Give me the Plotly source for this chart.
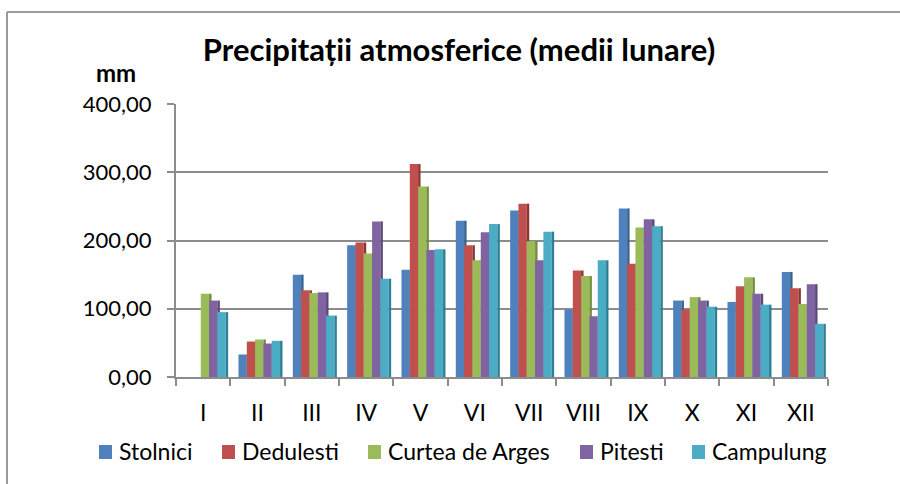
import plotly.graph_objects as go

months = ["I", "II", "III", "IV", "V", "VI", "VII", "VIII", "IX", "X", "XI", "XII"]
stolnici = [0, 33, 150, 193, 157, 229, 244, 99, 247, 112, 110, 154]
dedulesti = [0, 52, 127, 197, 312, 193, 254, 156, 166, 99, 133, 130]
curtea_de_arges = [122, 55, 123, 181, 279, 171, 199, 148, 219, 117, 146, 107]
pitesti = [112, 49, 124, 228, 186, 212, 171, 89, 231, 112, 122, 136]
campulung = [95, 53, 90, 144, 187, 224, 213, 171, 221, 103, 106, 78]
y_ticks = [0, 100, 200, 300, 400]
y_tick_labels = ["0,00", "100,00", "200,00", "300,00", "400,00"]

series = [
    ("Stolnici", stolnici, "#4F81BD", "#37618F"),
    ("Dedulesti", dedulesti, "#C0504D", "#8E3533"),
    ("Curtea de Arges", curtea_de_arges, "#9BBB59", "#728D3C"),
    ("Pitesti", pitesti, "#8064A2", "#5D4679"),
    ("Campulung", campulung, "#4BACC6", "#2F7F95"),
]
# left edge of each legend swatch (page pixels)
legend_x = [99, 222, 368, 580, 692]

FONT = "Lato, 'Open Sans', sans-serif"
fig = go.Figure()
step = 0.153
front_w = 0.153
side_w = 0.045
for i, (name, vals, col, dark) in enumerate(series):
    off = -0.35 + i * step
    fig.add_trace(go.Bar(
        x=months, y=vals, name=name, marker=dict(color=col, line=dict(width=0)),
        offset=off, width=front_w, showlegend=False,
    ))
    fig.add_trace(go.Bar(
        x=months, y=vals, name=name, marker=dict(color=dark, line=dict(width=0)),
        offset=off + front_w, width=side_w, showlegend=False, hoverinfo="skip",
    ))

# page body margin is removed below, so figure pixels == page pixels
W, H = 900, 484
L, R, T, B = 176, W - 828, 104, H - 377
PW, PH = W - L - R, H - T - B


def px(x):
    """page pixel x -> paper coordinate"""
    return (x - L) / PW


def py(y):
    """page pixel y -> paper coordinate"""
    return (H - B - y) / PH


annotations = [dict(text="<b>mm</b>", xref="paper", yref="paper",
                    x=px(116), y=py(72),
                    showarrow=False, xanchor="center", yanchor="middle",
                    font=dict(size=24, family=FONT, color="black"))]
shapes = [
    dict(type="line", xref="paper", yref="paper", x0=px(7), x1=px(7),
         y0=py(484), y1=py(12), line=dict(color="#9A9A9A", width=2)),
    dict(type="line", xref="paper", yref="paper", x0=px(7), x1=px(900),
         y0=py(12), y1=py(12), line=dict(color="#9A9A9A", width=2)),
]
for (name, vals, col, dark), lx in zip(series, legend_x):
    shapes.append(dict(type="rect", xref="paper", yref="paper",
                       x0=px(lx), x1=px(lx + 13), y0=py(459), y1=py(445),
                       fillcolor=col, line=dict(width=0)))
    annotations.append(dict(text=name, xref="paper", yref="paper",
                            x=px(lx + 18), y=py(451), showarrow=False,
                            xanchor="left", yanchor="middle",
                            font=dict(size=23, family=FONT, color="black")))

fig.update_layout(
    width=W, height=H,
    barmode="overlay",
    showlegend=False,
    plot_bgcolor="white", paper_bgcolor="white",
    margin=dict(l=L, r=R, t=T, b=B, autoexpand=False),
    font=dict(family=FONT, color="black"),
    title=dict(text="<b>Precipitații atmosferice (medii lunare)</b>",
               x=459 / W, xref="container", xanchor="center",
               y=1 - 50 / H, yanchor="middle",
               font=dict(size=31, family=FONT, color="black")),
    xaxis=dict(range=[-0.5, 11.5], showgrid=False, showline=True, linecolor="#8C8C8C",
               linewidth=2, ticks="outside", tickson="boundaries", ticklen=7,
               tickcolor="#8C8C8C", tickwidth=2, ticklabelstandoff=14,
               tickfont=dict(size=23, family=FONT, color="black")),
    yaxis=dict(range=[0, 400], tickvals=y_ticks, ticktext=y_tick_labels,
               showgrid=True, gridcolor="#8C8C8C", gridwidth=2,
               showline=True, linecolor="#8C8C8C", linewidth=2,
               ticks="outside", ticklen=7, tickcolor="#8C8C8C", tickwidth=2,
               ticklabelstandoff=11,
               tickfont=dict(size=22, family=FONT, color="black"), zeroline=False),
    annotations=annotations,
    shapes=shapes,
)
fig.write_html(
    "out.html",
    config={"displayModeBar": False},
    post_script="document.body.style.margin='0';document.body.style.overflow='hidden';",
)
